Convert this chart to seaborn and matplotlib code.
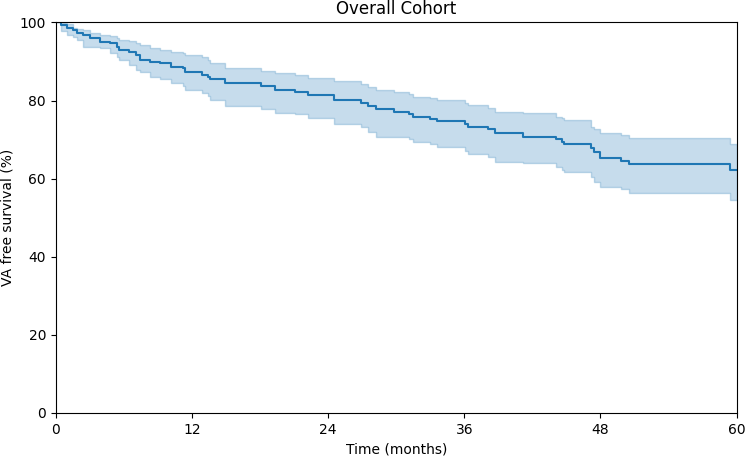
import numpy as np
import pandas as pd
import matplotlib
matplotlib.use("Agg")
import matplotlib.pyplot as plt
import seaborn as sns

# Kaplan-Meier estimate (months, % event free)
time_months = [0, 0.5, 0.95, 1.55, 1.85, 2.43, 3.0, 3.9, 4.8, 5.4, 5.55, 6.5, 7.1, 7.4, 8.3,
               9.2, 10.2, 11.2, 11.4, 12.9, 13.4, 13.6, 14.9,
               18.1, 19.3, 21.1, 22.2, 24.5, 26.9, 27.5, 28.2, 29.8, 31.1, 31.5, 33.0, 33.6,
               36.1, 36.3, 38.1, 38.7, 41.2, 44.1, 44.6, 44.8, 47.2, 47.4, 48.0, 49.8, 50.5,
               59.4, 60]
survival = [100, 99.3, 98.5, 98.1, 97.2, 96.8, 96.1, 95.1, 94.7, 93.8, 93.0, 92.5, 91.7, 90.4, 90.0,
            89.5, 88.7, 88.3, 87.4, 86.6, 86.0, 85.5, 84.4,
            83.7, 82.7, 82.3, 81.4, 80.1, 79.3, 78.5, 77.8, 77.2, 76.6, 75.9, 75.3, 74.8,
            74.0, 73.3, 72.6, 71.6, 70.7, 70.1, 69.5, 68.8, 67.8, 66.9, 65.4, 64.5, 63.8,
            62.1, 62.1]
ci_lower = [100, 97.8, 96.8, 96.2, 95.5, 93.8, 93.6, 93.4, 92.1, 91.2, 90.4, 89.1, 87.8, 87.2, 86.1,
            85.4, 84.4, 83.7, 82.7, 82.0, 81.2, 80.2, 78.7,
            77.8, 76.9, 76.6, 75.5, 74.0, 73.2, 72.0, 70.8, 70.6, 70.2, 69.5, 68.9, 68.0,
            67.0, 66.4, 65.5, 64.4, 64.0, 63.0, 62.3, 61.6, 60.5, 59.2, 57.8, 57.3, 56.4,
            54.5, 54.5]
ci_upper = [100, 99.9, 99.5, 98.7, 98.4, 98.0, 97.2, 96.8, 96.6, 95.9, 95.5, 95.2, 94.7, 94.2, 93.4,
            93.0, 92.5, 92.2, 91.8, 91.2, 90.4, 89.5, 88.4,
            87.5, 87.0, 86.6, 85.7, 84.9, 84.3, 83.6, 82.6, 82.3, 81.7, 81.0, 80.6, 80.1,
            79.3, 78.8, 78.2, 77.2, 76.7, 75.9, 75.5, 75.0, 73.2, 72.6, 71.8, 71.2, 70.3,
            68.9, 68.9]

df = pd.DataFrame({"time": time_months, "survival": survival,
                   "lower": ci_lower, "upper": ci_upper})

color = "#1f77b4"
fig = plt.figure(figsize=(7.47, 4.57), dpi=100)
ax = fig.add_axes([0.0746, 0.0963, 0.9116, 0.8545])

ax.fill_between(df["time"], df["lower"], df["upper"], step="post",
                color=color, alpha=0.25, linewidth=1)
sns.lineplot(data=df, x="time", y="survival", ax=ax, color=color,
             drawstyle="steps-post", linewidth=1.5, errorbar=None, estimator=None)

ax.set_xlim(0, 60)
ax.set_ylim(0, 100)
ax.set_xticks([0, 12, 24, 36, 48, 60])
ax.set_yticks([0, 20, 40, 60, 80, 100])
ax.set_title("Overall Cohort")
ax.set_xlabel("Time (months)")
ax.set_ylabel("VA free survival (%)")

fig.savefig("out.png", dpi=100)
